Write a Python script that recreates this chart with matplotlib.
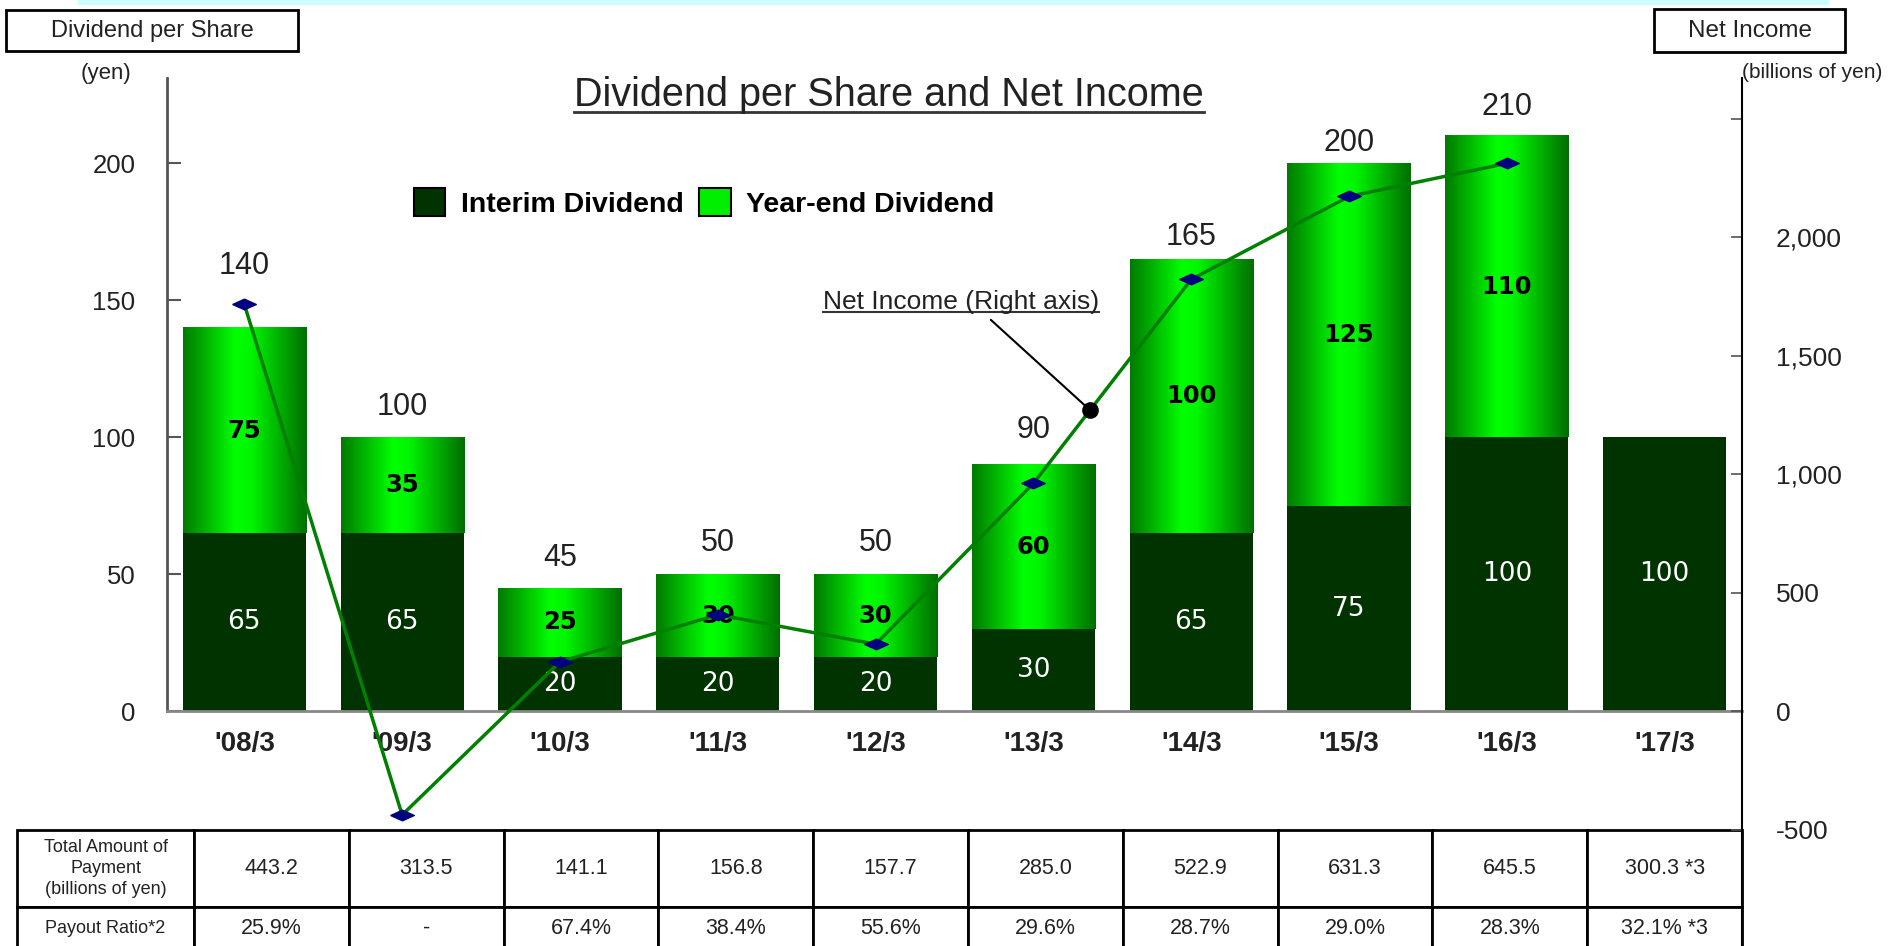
import numpy as np
import matplotlib
matplotlib.use('Agg')
import matplotlib.pyplot as plt
from matplotlib import font_manager as fm
from matplotlib.patches import Rectangle, Patch
from matplotlib.lines import Line2D
from matplotlib.colors import LinearSegmentedColormap

# ---------------- data ----------------
periods = ["'08/3", "'09/3", "'10/3", "'11/3", "'12/3", "'13/3", "'14/3", "'15/3", "'16/3", "'17/3"]
interim = [65, 65, 20, 20, 20, 30, 65, 75, 100, 100]
year_end = [75, 35, 25, 30, 30, 60, 100, 125, 110, 0]
net_income = [1717.9, -437.0, 209.5, 408.2, 283.6, 962.2, 1823.1, 2173.3, 2312.7]
total_payment = [443.2, 313.5, 141.1, 156.8, 157.7, 285.0, 522.9, 631.3, 645.5, 300.3]
payout_ratio = [25.9, None, 67.4, 38.4, 55.6, 29.6, 28.7, 29.0, 28.3, 32.1]
last_note = " *3"
row_headers = ["Total Amount of\nPayment\n(billions of yen)", "Payout Ratio*2"]
left_ticks = [0, 50, 100, 150, 200]
right_ticks = [-500, 0, 500, 1000, 1500, 2000, 2500]
right_tick_labels = ["-500", "0", "500", "1,000", "1,500", "2,000", ""]

# ---------------- style ----------------
names = {f.name for f in fm.fontManager.ttflist}
NARROW = 'Liberation Sans Narrow' if 'Liberation Sans Narrow' in names else 'Liberation Sans'
plt.rcParams['font.family'] = [NARROW, 'DejaVu Sans']
TXT = '#222222'

W, H = 1897, 946
fig = plt.figure(figsize=(W / 100, H / 100), dpi=100)
fig.patch.set_facecolor('white')

# cyan band at top
fig.add_artist(Rectangle((78 / W, 1 - 5 / H), (1829 - 78) / W, 5 / H,
                         transform=fig.transFigure, facecolor='#ccffff', edgecolor='none'))

ax = fig.add_axes([167 / W, 0, 1575 / W, 868 / H])
ax2 = ax.twinx()
ax.set_zorder(1)
ax2.set_zorder(2)
ax.patch.set_visible(False)

x = np.arange(len(periods))
bw = 0.78
INTERIM_C = '#003300'

b1 = ax.bar(x, interim, bw, color=INTERIM_C, zorder=2)
b2 = ax.bar(x, year_end, bw, bottom=interim, color='none', zorder=2)

# horizontal gradient for year-end bars
grad_cmap = LinearSegmentedColormap.from_list(
    'g', [(0.0, '#007a00'), (0.42, '#00ff00'), (0.55, '#00f500'), (1.0, '#006e00')])
grad = np.linspace(0, 1, 256).reshape(1, -1)
for p in b2.patches:
    if p.get_height() <= 0:
        continue
    x0, y0 = p.get_x(), p.get_y()
    ax.imshow(grad, extent=[x0, x0 + p.get_width(), y0, y0 + p.get_height()],
              aspect='auto', cmap=grad_cmap, zorder=2.5, interpolation='bilinear')

# total labels above bars (offset in points)
label_offsets = [44.5, 22.2, 21.8, 22.5, 22.5, 25, 16, 14.8, 21]
for i in range(len(periods)):
    if year_end[i] <= 0:
        continue
    tot = interim[i] + year_end[i]
    ax.annotate(f"{tot}", (x[i], tot), xytext=(0, label_offsets[i]), textcoords='offset points',
                ha='center', va='center', fontsize=22, color=TXT, zorder=4)

# segment labels
for i in range(len(periods)):
    ax.text(x[i], interim[i] / 2, f"{interim[i]}", ha='center', va='center', color='white',
            fontsize=19, family=['DejaVu Sans'], zorder=4)
    if year_end[i] > 0:
        ax.text(x[i], interim[i] + year_end[i] / 2, f"{year_end[i]}", ha='center', va='center',
                color='black', fontsize=17.5, fontweight='bold', family=['DejaVu Sans'], zorder=4)

# axes limits
ax.set_xlim(-0.49, 9.49)
ax.set_ylim(-85.6, 231.2)
ax2.set_ylim(-990, 2673)

# left axis
ax.set_yticks(left_ticks)
ax.set_yticklabels([str(t) for t in left_ticks])
ax.tick_params(axis='y', direction='in', length=10, width=1.5, pad=22.7, labelsize=18.5,
               color='#555555', labelcolor=TXT)
ax.spines['left'].set_bounds(0, 231.2)
ax.spines['left'].set_color('#555555')
ax.spines['left'].set_linewidth(2)
ax.spines['bottom'].set_position(('data', 0))
ax.spines['bottom'].set_color('#888888')
ax.spines['bottom'].set_linewidth(2)
ax.spines['top'].set_visible(False)
ax.spines['right'].set_visible(False)
ax.set_xticks(x)
ax.set_xticklabels(periods, fontweight='bold')
ax.tick_params(axis='x', length=0, pad=14, labelsize=20, labelcolor=TXT)

# right axis
ax2.set_yticks(right_ticks)
ax2.set_yticklabels(right_tick_labels)
ax2.tick_params(axis='y', direction='in', length=8, width=1.2, pad=24.5, labelsize=19,
                color='#555555', labelcolor=TXT)
for s in ['left', 'top', 'bottom']:
    ax2.spines[s].set_visible(False)
ax2.spines['right'].set_color('black')
ax2.spines['right'].set_linewidth(1.5)

# net income line
diamond = [(-1, 0), (0, 0.45), (1, 0), (0, -0.45), (-1, 0)]
ax2.plot(x[:len(net_income)], net_income, color='#008000', lw=2.5, marker=diamond, ms=17,
         mfc='#000080', mec='#000080', zorder=3)

# annotation for net income
t = 0.359
ni_x = 5 + t
ni_y = net_income[5] + t * (net_income[6] - net_income[5])
ANN_XY = (4.541, 1697)
ann = ax2.annotate('Net Income (Right axis)', xy=(ni_x, ni_y), xytext=ANN_XY,
                   textcoords='data', ha='center', va='baseline', fontsize=19, color=TXT,
                   arrowprops=dict(arrowstyle='-', color='black', lw=1.5, relpos=(0.586, 0),
                                   shrinkA=3, shrinkB=0), zorder=5)
ax2.plot([ni_x], [ni_y], 'o', color='black', ms=11, zorder=6)

# legend
handles = [Patch(facecolor=INTERIM_C, edgecolor='black', lw=1.5, label='Interim Dividend'),
           Patch(facecolor='#00ee00', edgecolor='black', lw=1.5, label='Year-end Dividend')]
ax2.legend(handles=handles, loc='center left', bbox_to_anchor=(0.1568, 0.856), ncol=2,
           frameon=False, borderpad=0, borderaxespad=0, handlelength=1.1, handleheight=1.1,
           handletextpad=0.55, columnspacing=0.55,
           prop={'family': NARROW, 'weight': 'bold', 'size': 20.5})

# table
row1 = [row_headers[0]] + [f"{v:.1f}" for v in total_payment]
row1[-1] = row1[-1] + last_note
row2 = [row_headers[1]] + [("-" if v is None else f"{v:.1f}%") for v in payout_ratio]
row2[-1] = row2[-1] + last_note
col_w = [177] + [154.8] * len(periods)
tbl = ax.table(cellText=[row1, row2], cellLoc='center', colWidths=col_w,
               bbox=[(17 - 167) / 1575, -4 / 868, 1725 / 1575, 120 / 868])
tbl.auto_set_font_size(False)
for (r, c), cell in tbl.get_celld().items():
    cell.set_height(77 if r == 0 else 43)
    cell.set_linewidth(2)
    cell.set_edgecolor('black')
    cell.set_facecolor('white')
    tx = cell.get_text()
    tx.set_fontfamily([NARROW, 'DejaVu Sans'])
    tx.set_color(TXT)
    if c == 0:
        tx.set_fontsize(13)
        tx.set_linespacing(1.3)
    else:
        tx.set_fontsize(15.5)

# header boxes and units
fig.add_artist(Rectangle((6 / W, 1 - 51 / H), 292 / W, 41 / H, transform=fig.transFigure,
                         fill=False, edgecolor='black', lw=2))
fig.text(152 / W, 1 - 31 / H, 'Dividend per Share', ha='center', va='center', fontsize=17, color=TXT)
fig.text(106 / W, 1 - 73 / H, '(yen)', ha='center', va='center', fontsize=16, color=TXT)
fig.add_artist(Rectangle((1654 / W, 1 - 52 / H), 191 / W, 43 / H, transform=fig.transFigure,
                         fill=False, edgecolor='black', lw=2))
fig.text(1749.5 / W, 1 - 31 / H, 'Net Income', ha='center', va='center', fontsize=17.5, color=TXT)
fig.text(1742 / W, 1 - 73 / H, '(billions of yen)', ha='left', va='center', fontsize=15, color=TXT)

# title
title = fig.text(889 / W, 1 - 106.5 / H, 'Dividend per Share and Net Income', ha='center',
                 va='baseline', fontsize=28.5, color=TXT)

# underlines
fig.canvas.draw()
r = fig.canvas.get_renderer()
bb = title.get_window_extent(r)
ty = (1 - 112 / H)
fig.add_artist(Line2D([bb.x0 / W, bb.x1 / W], [ty, ty], transform=fig.transFigure,
                      color='#333333', lw=2))
abb = ann.get_window_extent(r)
base = ax2.transData.transform(ANN_XY)[1]
uy = (base - 3) / H
fig.add_artist(Line2D([abb.x0 / W, abb.x1 / W], [uy, uy], transform=fig.transFigure,
                      color='#333333', lw=1.5))

fig.savefig('out.png', dpi=100)
